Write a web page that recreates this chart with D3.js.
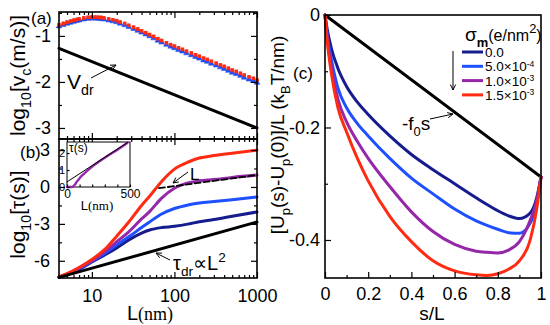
<!DOCTYPE html>
<html>
<head>
<meta charset="utf-8">
<script src="https://cdn.jsdelivr.net/npm/d3@7"></script>
<style>
  body { margin: 0; background: #fff; }
  text { font-family: "Liberation Sans", Arial, sans-serif; fill: #000; }
</style>
</head>
<body>
<svg id="chart" width="550" height="325"></svg>
<script>
// ---- panel (a): log10 v_c vs L
const lenA = [4, 4.5, 5, 5.5, 6, 6.5, 7, 8, 9, 10, 11, 12, 13, 14, 16, 18, 20, 22, 25, 28, 32, 36, 40, 45,
  50, 56, 63, 70, 80, 90, 100, 112, 125, 140, 160, 180, 200, 225, 250, 280, 320, 360, 400, 450, 500,
  560, 630, 700, 800, 900, 1000];
const vcRed = [-0.76, -0.73, -0.70, -0.68, -0.66, -0.645, -0.63, -0.61, -0.595, -0.59, -0.59, -0.595, -0.60,
  -0.61, -0.63, -0.65, -0.67, -0.70, -0.73, -0.77, -0.81, -0.85, -0.89, -0.93, -0.97, -1.01, -1.06, -1.10,
  -1.15, -1.19, -1.22, -1.26, -1.29, -1.33, -1.37, -1.41, -1.44, -1.48, -1.51, -1.55, -1.59, -1.63, -1.66,
  -1.70, -1.74, -1.77, -1.81, -1.85, -1.89, -1.92, -1.96];
const vcBlue = [-0.79, -0.76, -0.73, -0.71, -0.69, -0.675, -0.66, -0.64, -0.625, -0.62, -0.62, -0.625, -0.63,
  -0.64, -0.66, -0.68, -0.70, -0.73, -0.765, -0.805, -0.845, -0.885, -0.925, -0.965, -1.005, -1.05, -1.10,
  -1.14, -1.19, -1.23, -1.265, -1.305, -1.335, -1.375, -1.415, -1.455, -1.49, -1.53, -1.56, -1.60, -1.64,
  -1.68, -1.715, -1.755, -1.795, -1.825, -1.865, -1.905, -1.945, -1.975, -2.015];
const vdrL = [4, 1000];
const vdr = [-1.27, -3.0];

// ---- panel (b): log10 tau vs L
const lenB = [4, 5, 7, 10, 15, 20, 28, 40, 50, 70, 100, 150, 200, 300, 500, 1000];
const tauNavy = [-7.34, -7.12, -6.70, -6.10, -5.45, -4.95, -4.30, -3.75, -3.50, -3.30, -3.20, -3.00, -2.82, -2.65, -2.38, -2.03];
const tauBlue = [-7.33, -7.10, -6.65, -6.05, -5.30, -4.70, -4.05, -3.30, -2.84, -2.20, -1.75, -1.45, -1.30, -1.18, -1.03, -0.81];
const tauPurple = [-7.32, -7.08, -6.60, -6.00, -5.15, -4.45, -3.65, -2.60, -2.00, -0.90, -0.10, 0.35, 0.50, 0.60, 0.78, 0.97];
const tauRed = [-7.30, -7.05, -6.55, -5.90, -4.95, -4.00, -2.85, -1.50, -0.75, 0.45, 1.45, 2.05, 2.35, 2.55, 2.75, 3.00];
const tauDrL = [4, 1000];
const tauDr = [-7.35, -2.85];
const fitL = [65, 1000];
const fitTau = [-0.10, 0.97];

// inset of (b): tau (s) vs L (nm), linear
const insetL = [0, 40, 60, 80, 100, 130, 160, 200, 300, 400, 480];
const insetPurple = [0, 0, 0.12, 0.33, 0.52, 0.75, 0.95, 1.2, 1.72, 2.2, 2.6];
const insetFitL = [0, 480];
const insetFit = [0.3, 2.62];

// ---- panel (c): potential profile vs s/L
const sPos = [0, 0.01, 0.03, 0.06, 0.1, 0.15, 0.2, 0.3, 0.4, 0.5, 0.6, 0.7, 0.75, 0.8, 0.85, 0.9, 0.95, 0.98, 1];
const uNavy = [0, -0.025, -0.06, -0.095, -0.127, -0.155, -0.177, -0.215, -0.248, -0.275, -0.30, -0.325, -0.337,
  -0.348, -0.357, -0.362, -0.352, -0.325, -0.288];
const uBlue = [0, -0.035, -0.08, -0.13, -0.165, -0.193, -0.215, -0.255, -0.29, -0.318, -0.345, -0.366, -0.374,
  -0.381, -0.387, -0.388, -0.37, -0.335, -0.288];
const uPurple = [0, -0.04, -0.095, -0.15, -0.19, -0.225, -0.255, -0.305, -0.35, -0.385, -0.408, -0.42, -0.422,
  -0.423, -0.418, -0.403, -0.365, -0.33, -0.288];
const uRed = [0, -0.045, -0.105, -0.165, -0.208, -0.255, -0.295, -0.358, -0.403, -0.437, -0.455, -0.462, -0.463,
  -0.46, -0.452, -0.437, -0.40, -0.345, -0.288];
const f0S = [0, 1];
const f0U = [0, -0.288];

const sigmaLabels = [['0.0', ''], ['5.0\u00d710', '-4'], ['1.0\u00d710', '-3'], ['1.5\u00d710', '-3']];
const colors = ['#161c8e', '#1f50ff', '#9528a8', '#ff2a12'];

const svg = d3.select('#chart');
const serif = '"Liberation Serif", "Times New Roman", serif';

const boxA = {left: 59, right: 257, top: 12, bottom: 139};
const boxB = {left: 59, right: 257, top: 139, bottom: 278};
const boxC = {left: 325, right: 541, top: 15, bottom: 278};

const xL = d3.scaleLog().domain([4, 1000]).range([boxA.left, boxA.right]);
const yA = d3.scaleLinear().domain([-3.24, -0.48]).range([boxA.bottom, boxA.top]);
const yB = d3.scaleLinear().domain([-7.4, 3.9]).range([boxB.bottom, boxB.top]);
const xS = d3.scaleLinear().domain([0, 1]).range([boxC.left, boxC.right]);
const yC = d3.scaleLinear().domain([-0.4676, 0]).range([boxC.bottom, boxC.top]);

const xInset = d3.scaleLinear().domain([0, 500]).range([67, 130]);
const yInset = d3.scaleLinear().domain([0, 2.65]).range([187, 142]);

const majorL = [10, 100, 1000];
const minorL = [5, 6, 7, 8, 9, 20, 30, 40, 50, 60, 70, 80, 90, 200, 300, 400, 500, 600, 700, 800, 900];

const plain = (d) => String(d);
const oneDec = (d) => (d === 0 || d === 1 ? String(d) : d.toFixed(1));

function ticks(gen, scale, values, size, transform, format, pad, fontSize) {
    const axis = gen(scale).tickValues(values).tickSize(-size).tickPadding(pad || 4)
        .tickFormat(format || (() => ''));
    const g = svg.append('g').attr('transform', transform).call(axis);
    g.select('.domain').remove();
    g.selectAll('line').attr('stroke', '#000').attr('stroke-width', 1.2);
    g.selectAll('text')
        .attr('font-size', fontSize || 18)
        .attr('font-family', '"Liberation Sans", Arial, sans-serif')
        .attr('fill', '#000');
    return g;
}

function frame(b) {
    svg.append('rect')
        .attr('x', b.left).attr('y', b.top)
        .attr('width', b.right - b.left).attr('height', b.bottom - b.top)
        .attr('fill', 'none').attr('stroke', '#000').attr('stroke-width', 1.6);
}

// text with sub/superscripts: parts = [[text, 'sub'|'sup'|'', family, size]]
function rich(sel, parts, size, supRaise) {
    let shift = 0;
    parts.forEach(([txt, kind, fam, own]) => {
        const target = kind === 'sub' ? size * 0.3 : kind === 'sup' ? -size * (supRaise || 0.42) : 0;
        sel.append('tspan')
            .attr('dy', target - shift)
            .attr('font-size', own || (kind ? size * 0.68 : size))
            .attr('font-family', fam || null)
            .text(txt);
        shift = target;
    });
    return sel;
}

function arrow(x1, y1, x2, y2) {
    const a = Math.atan2(y2 - y1, x2 - x1);
    const h = 6;
    const p = d3.path();
    p.moveTo(x1, y1);
    p.lineTo(x2, y2);
    p.moveTo(x2 - h * Math.cos(a - 0.45), y2 - h * Math.sin(a - 0.45));
    p.lineTo(x2, y2);
    p.lineTo(x2 - h * Math.cos(a + 0.45), y2 - h * Math.sin(a + 0.45));
    svg.append('path').attr('d', p.toString())
        .attr('fill', 'none').attr('stroke', '#000').attr('stroke-width', 1);
}

function curve(xs, ys, xScale, yScale, color, width, dash, shape) {
    const line = d3.line()
        .x((d) => xScale(d[0]))
        .y((d) => yScale(d[1]))
        .curve(shape || d3.curveMonotoneX);
    svg.append('path')
        .datum(xs.map((x, i) => [x, ys[i]]))
        .attr('d', line)
        .attr('fill', 'none')
        .attr('stroke', color)
        .attr('stroke-width', width)
        .attr('stroke-linecap', 'round')
        .attr('stroke-dasharray', dash || null);
}

// ================= panel (a)
svg.append('g').selectAll('path.tri')
    .data(lenA.map((l, i) => [l, vcBlue[i]]))
    .join('path')
    .attr('transform', (d) => `translate(${xL(d[0])},${yA(d[1])})`)
    .attr('d', d3.symbol(d3.symbolTriangle, 14))
    .attr('fill', colors[1]).attr('stroke', '#1a3fd0').attr('stroke-width', 0.5);
svg.append('g').selectAll('rect.sq')
    .data(lenA.map((l, i) => [l, vcRed[i]]))
    .join('rect')
    .attr('x', (d) => xL(d[0]) - 1.8).attr('y', (d) => yA(d[1]) - 1.8)
    .attr('width', 3.6).attr('height', 3.6)
    .attr('fill', colors[3]);
curve(vdrL, vdr, xL, yA, '#000', 3, null, d3.curveLinear);

ticks(d3.axisLeft, yA, [-1, -2, -3], 6, `translate(${boxA.left},0)`, plain, 8);
ticks(d3.axisLeft, yA, [-0.5, -1.5, -2.5], 3, `translate(${boxA.left},0)`);
ticks(d3.axisRight, yA, [-1, -2, -3], 6, `translate(${boxA.right},0)`);
ticks(d3.axisRight, yA, [-0.5, -1.5, -2.5], 3, `translate(${boxA.right},0)`);
ticks(d3.axisTop, xL, majorL, 6, `translate(0,${boxA.top})`);
ticks(d3.axisTop, xL, minorL, 3, `translate(0,${boxA.top})`);
ticks(d3.axisBottom, xL, majorL, 6, `translate(0,${boxA.bottom})`);
ticks(d3.axisBottom, xL, minorL, 3, `translate(0,${boxA.bottom})`);
frame(boxA);

svg.append('text').attr('x', 31).attr('y', 24).attr('font-size', 17).text('(a)');
rich(svg.append('text').attr('transform', `translate(25,${(boxA.top + boxA.bottom) / 2}) rotate(-90)`)
    .attr('text-anchor', 'middle'),
    [['log', ''], ['10', 'sub'], ['[v', ''], ['c', 'sub'], ['(m/s)]', '']], 21);
rich(svg.append('text').attr('x', 67).attr('y', 89), [['V', ''], ['dr', 'sub']], 21);
arrow(91, 78, 116, 65);

// ================= panel (b)
[tauNavy, tauBlue, tauPurple, tauRed].forEach((ys, i) => {
    curve(lenB, ys, xL, yB, colors[i], 3);
});
curve(tauDrL, tauDr, xL, yB, '#000', 3, null, d3.curveLinear);
curve(fitL, fitTau, xL, yB, '#000', 1.8, '6,3', d3.curveLinear);

ticks(d3.axisLeft, yB, [3, 0, -3, -6], 6, `translate(${boxB.left},0)`, plain, 9);
ticks(d3.axisLeft, yB, [1.5, -1.5, -4.5], 3, `translate(${boxB.left},0)`);
ticks(d3.axisRight, yB, [3, 0, -3, -6], 6, `translate(${boxB.right},0)`);
ticks(d3.axisRight, yB, [1.5, -1.5, -4.5], 3, `translate(${boxB.right},0)`);
ticks(d3.axisTop, xL, majorL, 6, `translate(0,${boxB.top})`);
ticks(d3.axisTop, xL, minorL, 3, `translate(0,${boxB.top})`);
ticks(d3.axisBottom, xL, majorL, 6, `translate(0,${boxB.bottom})`, plain, 11);
ticks(d3.axisBottom, xL, minorL, 3, `translate(0,${boxB.bottom})`);
frame(boxB);

svg.append('text').attr('x', 20).attr('y', 158).attr('font-size', 17).text('(b)');
rich(svg.append('text').attr('transform', `translate(25,${(boxB.top + boxB.bottom) / 2 + 6}) rotate(-90)`)
    .attr('text-anchor', 'middle'),
    [['log', ''], ['10', 'sub'], ['[\u03c4(s)]', '']], 21);
rich(svg.append('text').attr('x', 150).attr('y', 320).attr('text-anchor', 'middle'),
    [['L', ''], ['(nm)', '', serif, 18]], 20);

svg.append('text').attr('x', 190).attr('y', 180).attr('font-size', 17).text('L');
arrow(188, 172, 173, 183);
rich(svg.append('text').attr('x', 173).attr('y', 270), [['\u03c4', ''], ['dr', 'sub'], ['\u221dL', ''], ['2', 'sup']], 20);
arrow(170, 260, 156, 253);

// inset
svg.append('rect').attr('x', 67).attr('y', 142).attr('width', 63).attr('height', 45)
    .attr('fill', '#fff').attr('stroke', '#000').attr('stroke-width', 1);
curve(insetL, insetPurple, xInset, yInset, colors[2], 2.4);
curve(insetFitL, insetFit, xInset, yInset, '#000', 1, null, d3.curveLinear);
ticks(d3.axisLeft, yInset, [0, 1, 2], 2.5, 'translate(67,0)', plain, 2, 11);
ticks(d3.axisBottom, xInset, [0, 100, 200, 300, 400, 500], 2.5, 'translate(0,187)', (d) => (d % 500 ? '' : d), 2, 12);
svg.append('text').attr('x', 69).attr('y', 152).attr('font-size', 12).text('\u03c4(s)');
rich(svg.append('text').attr('x', 97).attr('y', 210).attr('text-anchor', 'middle'),
    [['L', ''], ['(nm)', '', serif]], 13);

// ================= panel (c)
curve(f0S, f0U, xS, yC, '#000', 3, null, d3.curveLinear);
[uNavy, uBlue, uPurple, uRed].forEach((ys, i) => {
    curve(sPos, ys, xS, yC, colors[i], 3);
});

ticks(d3.axisLeft, yC, [0, -0.2, -0.4], 6, `translate(${boxC.left},0)`, oneDec, 5);
ticks(d3.axisLeft, yC, [-0.1, -0.3], 3, `translate(${boxC.left},0)`);
ticks(d3.axisBottom, xS, [0, 0.2, 0.4, 0.6, 0.8, 1], 6, `translate(0,${boxC.bottom})`, oneDec, 9);
ticks(d3.axisBottom, xS, [0.1, 0.3, 0.5, 0.7, 0.9], 3, `translate(0,${boxC.bottom})`);
frame(boxC);

rich(svg.append('text').attr('transform', `translate(284,${boxC.top + 120}) rotate(-90)`)
    .attr('text-anchor', 'middle'),
    [['[U', ''], ['p', 'sub'], ['(s)-U', ''], ['p', 'sub'], ['(0)]/L (k', ''], ['B', 'sub'], ['T/nm)', '']], 19);
svg.append('text').attr('x', 432).attr('y', 320).attr('text-anchor', 'middle').attr('font-size', 19).text('s/L');
svg.append('text').attr('x', 293).attr('y', 79).attr('font-size', 17).text('(c)');

rich(svg.append('text').attr('x', 402).attr('y', 130), [['-f', ''], ['0', 'sub'], ['s', '']], 19);
arrow(430, 119, 453, 114);

// legend
const legend = svg.append('g');
rich(legend.append('text').attr('x', 465).attr('y', 41).attr('font-family', serif),
    [['\u03c3', ''], ['m', 'sub'], ['(e/nm', '', null, 16], ['2', 'sup'], [')', '', null, 16]], 19);
legend.select('text tspan:nth-child(2)').attr('font-weight', 'bold');
sigmaLabels.forEach(([base, exp], i) => {
    const y = 52 + i * 14.3;
    legend.append('line').attr('x1', 462).attr('x2', 483).attr('y1', y).attr('y2', y)
        .attr('stroke', colors[i]).attr('stroke-width', 3);
    const t = legend.append('text').attr('x', 485).attr('y', y + 5);
    rich(t, exp ? [[base, ''], [exp, 'sup', null, 8.5]] : [[base, '']], 13.5, 0.33);
});
arrow(453, 51, 453, 90);
</script>
</body>
</html>
